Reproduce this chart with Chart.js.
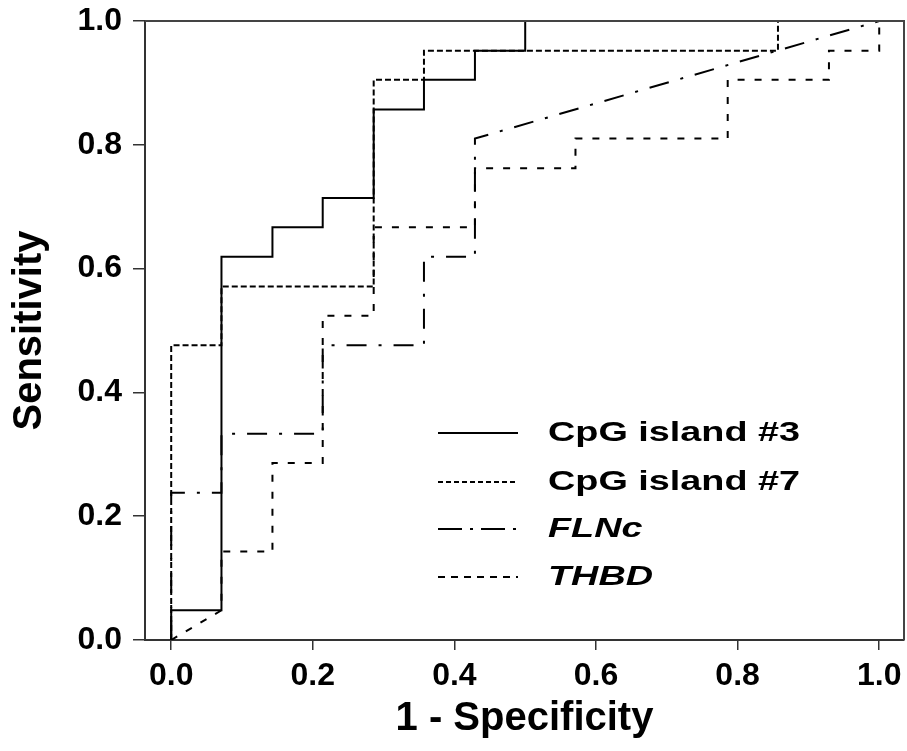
<!DOCTYPE html>
<html>
<head>
<meta charset="utf-8">
<script src="https://cdn.jsdelivr.net/npm/chart.js@4.4.1/dist/chart.umd.min.js"></script>
<style>
  html, body { margin: 0; padding: 0; background: #fff; }
  #wrap { width: 907px; height: 751px; position: relative; }
</style>
</head>
<body>
<div id="wrap"><canvas id="roc"></canvas></div>
<script>
// ROC curves, points (1 - specificity, sensitivity)
const cpg3X = [0, 0, 0.071, 0.071, 0.143, 0.143, 0.214, 0.214, 0.286, 0.286, 0.357, 0.357, 0.429, 0.429, 0.5, 0.5, 1.0];
const cpg3Y = [0, 0.048, 0.048, 0.619, 0.619, 0.667, 0.667, 0.714, 0.714, 0.857, 0.857, 0.905, 0.905, 0.952, 0.952, 1.0, 1.0];

const cpg7X = [0, 0, 0.071, 0.071, 0.286, 0.286, 0.357, 0.357, 0.857, 0.857, 1.0];
const cpg7Y = [0, 0.476, 0.476, 0.571, 0.571, 0.905, 0.905, 0.952, 0.952, 1.0, 1.0];

const flncX = [0, 0, 0.071, 0.071, 0.214, 0.214, 0.357, 0.357, 0.429, 0.429, 1.0];
const flncY = [0, 0.238, 0.238, 0.333, 0.333, 0.476, 0.476, 0.619, 0.619, 0.810, 1.0];

const thbdX = [0, 0.071, 0.071, 0.143, 0.143, 0.214, 0.214, 0.286, 0.286, 0.429, 0.429, 0.571, 0.571, 0.786, 0.786, 0.929, 0.929, 1.0, 1.0];
const thbdY = [0, 0.048, 0.143, 0.143, 0.286, 0.286, 0.524, 0.524, 0.667, 0.667, 0.762, 0.762, 0.810, 0.810, 0.905, 0.905, 0.952, 0.952, 1.0];

const seriesNames = ['CpG island #3', 'CpG island #7', 'FLNc', 'THBD'];
const xTicks = [0, 0.2, 0.4, 0.6, 0.8, 1.0];

const FONT = '"Liberation Sans", Arial, Helvetica, sans-serif';

function pts(xs, ys) {
    return xs.map((x, i) => ({ x: x, y: ys[i] }));
}

// legend sits inside the plot, drawn by hand
const legendStyles = [
    { dash: [], italic: false },
    { dash: [5, 3], italic: false },
    { dash: [24, 8, 3, 8], italic: true },
    { dash: [7, 6], italic: true },
];

const insideLegend = {
    id: 'insideLegend',
    afterDraw(chart) {
        const ctx = chart.ctx;
        const rows = [433, 482, 529, 577];
        ctx.save();
        ctx.strokeStyle = '#000';
        ctx.fillStyle = '#000';
        ctx.lineWidth = 2;
        seriesNames.forEach((name, i) => {
            const y = rows[i];
            ctx.setLineDash(legendStyles[i].dash);
            ctx.beginPath();
            ctx.moveTo(438, y);
            ctx.lineTo(518, y);
            ctx.stroke();
            ctx.setLineDash([]);
            ctx.save();
            ctx.translate(548, y + 1);
            ctx.scale(1.4, 1);
            ctx.font = (legendStyles[i].italic ? 'italic ' : '') + 'bold 27px ' + FONT;
            ctx.textBaseline = 'middle';
            ctx.textAlign = 'left';
            ctx.fillText(name, 0, 0);
            ctx.restore();
        });
        ctx.restore();
    }
};

// top and right edges of the box
const frame = {
    id: 'frame',
    afterDraw(chart) {
        const { ctx, chartArea: a } = chart;
        ctx.save();
        ctx.strokeStyle = '#444';
        ctx.lineWidth = 2;
        ctx.beginPath();
        ctx.moveTo(a.left, a.top);
        ctx.lineTo(a.right, a.top);
        ctx.lineTo(a.right, a.bottom);
        ctx.stroke();
        ctx.restore();
    }
};

const ctx = document.getElementById('roc');
new Chart(ctx, {
    type: 'scatter',
    data: {
        datasets: [
            { label: seriesNames[0], data: pts(cpg3X, cpg3Y), borderDash: [] },
            { label: seriesNames[1], data: pts(cpg7X, cpg7Y), borderDash: [6, 3] },
            { label: seriesNames[2], data: pts(flncX, flncY), borderDash: [20, 12, 3, 12] },
            { label: seriesNames[3], data: pts(thbdX, thbdY), borderDash: [7, 10] },
        ].map(d => Object.assign(d, {
            showLine: true,
            borderColor: '#000',
            backgroundColor: '#000',
            borderWidth: 2,
            pointRadius: 0,
            pointHoverRadius: 0,
            tension: 0,
        }))
    },
    options: {
        responsive: true,
        maintainAspectRatio: false,
        animation: false,
        layout: { padding: { top: 21, right: 3, left: 0, bottom: 0 } },
        plugins: {
            legend: { display: false },
            tooltip: { enabled: false },
        },
        scales: {
            x: {
                type: 'linear',
                min: -0.037,
                max: 1.035,
                afterBuildTicks: (axis) => { axis.ticks = xTicks.map(v => ({ value: v })); },
                afterFit: (scale) => {
                    scale.height = 111;
                    scale.paddingLeft = 0;
                    scale.paddingRight = 0;
                },
                grid: { display: true, drawOnChartArea: false, drawTicks: true, tickLength: 10, color: '#333', lineWidth: 1.5 },
                border: { display: true, color: '#333', width: 2 },
                ticks: {
                    color: '#000',
                    padding: 7,
                    maxRotation: 0,
                    autoSkip: false,
                    font: { family: FONT, size: 32, weight: 'bold' },
                    callback: (v) => Number(v).toFixed(1),
                },
                title: {
                    display: true,
                    text: '1 - Specificity',
                    color: '#000',
                    padding: { top: 0, bottom: 8 },
                    font: { family: FONT, size: 40, weight: 'bold' },
                },
            },
            y: {
                type: 'linear',
                min: 0,
                max: 1,
                afterFit: (scale) => {
                    scale.width = 145;
                    scale.paddingTop = 0;
                    scale.paddingBottom = 0;
                },
                grid: { display: true, drawOnChartArea: false, drawTicks: true, tickLength: 12, color: '#333', lineWidth: 1.5 },
                border: { display: true, color: '#333', width: 2 },
                ticks: {
                    stepSize: 0.2,
                    color: '#000',
                    padding: 11,
                    font: { family: FONT, size: 32, weight: 'bold' },
                    callback: (v) => Number(v).toFixed(1),
                },
                title: {
                    display: true,
                    text: 'Sensitivity',
                    color: '#000',
                    padding: { top: 6, bottom: 0 },
                    font: { family: FONT, size: 40, weight: 'bold' },
                },
            },
        },
    },
    plugins: [insideLegend, frame],
});
</script>
</body>
</html>
